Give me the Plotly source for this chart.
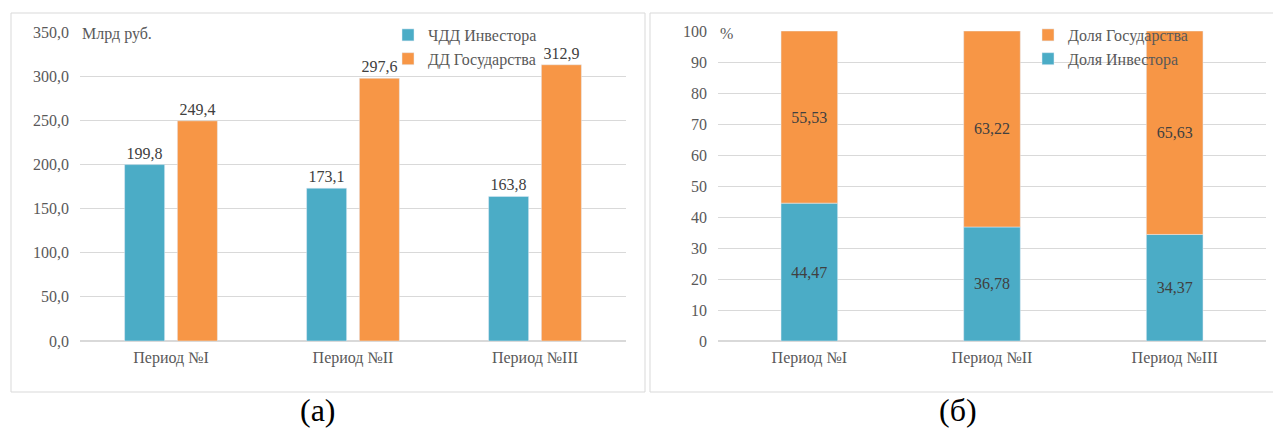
import plotly.graph_objects as go

# Categories and values
periods = ["Период №I", "Период №II", "Период №III"]
npv_investor = [199.8, 173.1, 163.8]      # ЧДД Инвестора, млрд руб.
income_state = [249.4, 297.6, 312.9]      # ДД Государства, млрд руб.
share_investor = [44.47, 36.78, 34.37]    # Доля Инвестора, %
share_state = [55.53, 63.22, 65.63]       # Доля Государства, %

left_ticks = [0, 50, 100, 150, 200, 250, 300, 350]
right_ticks = [0, 10, 20, 30, 40, 50, 60, 70, 80, 90, 100]

BLUE = "#4BACC6"
ORANGE = "#F79646"
GRID = "#D9D9D9"
TXT = "#595959"
LBL = "#404040"
FONT = "Liberation Serif"
W, H = 1273, 430

fig = go.Figure()

# (а) grouped bars
fig.add_bar(x=periods, y=npv_investor, name="ЧДД Инвестора", marker_color=BLUE,
            width=0.22, offset=-0.255, xaxis="x", yaxis="y", legend="legend",
            texttemplate="%{y:.1f}", textposition="outside", cliponaxis=False,
            textfont=dict(family=FONT, size=16, color=LBL))
fig.add_bar(x=periods, y=income_state, name="ДД Государства", marker_color=ORANGE,
            width=0.22, offset=0.035, xaxis="x", yaxis="y", legend="legend",
            texttemplate="%{y:.1f}", textposition="outside", cliponaxis=False,
            textfont=dict(family=FONT, size=16, color=LBL))

# (б) stacked shares
fig.add_bar(x=periods, y=share_investor, name="Доля Инвестора", marker_color=BLUE,
            width=0.31, offset=-0.155, xaxis="x2", yaxis="y2", legend="legend2",
            texttemplate="%{y:.2f}", textposition="inside", insidetextanchor="middle",
            textfont=dict(family=FONT, size=16, color=LBL), legendrank=2)
fig.add_bar(x=periods, y=share_state, base=share_investor, name="Доля Государства",
            marker_color=ORANGE, width=0.31, offset=-0.155, xaxis="x2", yaxis="y2",
            legend="legend2", texttemplate="%{y:.2f}", textposition="inside",
            insidetextanchor="middle",
            textfont=dict(family=FONT, size=16, color=LBL), legendrank=1)

def px(v):
    return v / W

def py(v):
    return 1 - v / H

axis_font = dict(family=FONT, size=16, color=TXT)

fig.update_layout(
    width=W, height=H,
    margin=dict(l=0, r=0, t=0, b=0, autoexpand=False),
    paper_bgcolor="white", plot_bgcolor="white",
    separators=", ",
    barmode="group",
    font=dict(family=FONT, size=16, color=TXT),
    xaxis=dict(domain=[px(80), px(626)], anchor="y", showgrid=False, automargin=False,
               tickfont=axis_font, ticks="", showline=False, ticklabelstandoff=5),
    yaxis=dict(domain=[py(341), py(32)], range=[0, 350], tickvals=left_ticks,
               tickformat=".1f", gridcolor=GRID, gridwidth=1, zeroline=True,
               zerolinecolor=GRID, tickfont=axis_font, ticklabelstandoff=10,
               automargin=False),
    xaxis2=dict(domain=[px(718), px(1266)], anchor="y2", showgrid=False, automargin=False,
                tickfont=axis_font, ticks="", showline=False, ticklabelstandoff=5),
    yaxis2=dict(domain=[py(341), py(31)], range=[0, 100], tickvals=right_ticks,
                gridcolor=GRID, gridwidth=1, zeroline=True, zerolinecolor=GRID,
                tickfont=axis_font, ticklabelstandoff=10, anchor="x2",
                automargin=False),
    legend=dict(x=px(388), y=py(18), xanchor="left", yanchor="top",
                bgcolor="rgba(0,0,0,0)", font=dict(family=FONT, size=16, color=TXT),
                traceorder="normal", itemwidth=30),
    legend2=dict(x=px(1028), y=py(18), xanchor="left", yanchor="top",
                 bgcolor="rgba(0,0,0,0)", font=dict(family=FONT, size=16, color=TXT),
                 traceorder="normal", itemwidth=30),
    shapes=[
        dict(type="rect", xref="paper", yref="paper", x0=px(11), x1=px(645),
             y0=py(392), y1=py(13), line=dict(color=GRID, width=1), layer="below"),
        dict(type="rect", xref="paper", yref="paper", x0=px(650), x1=px(1280),
             y0=py(392), y1=py(13), line=dict(color=GRID, width=1), layer="below"),
    ],
    annotations=[
        dict(text="Млрд руб.", xref="paper", yref="paper", x=px(80), y=py(34),
             xanchor="left", yanchor="middle", showarrow=False,
             font=dict(family=FONT, size=16, color=TXT)),
        dict(text="%", xref="paper", yref="paper", x=px(718), y=py(33),
             xanchor="left", yanchor="middle", showarrow=False,
             font=dict(family=FONT, size=16, color=TXT)),
        dict(text="(а)", xref="paper", yref="paper", x=px(318), y=py(410),
             xanchor="center", yanchor="middle", showarrow=False,
             font=dict(family=FONT, size=32, color="black")),
        dict(text="(б)", xref="paper", yref="paper", x=px(958), y=py(410),
             xanchor="center", yanchor="middle", showarrow=False,
             font=dict(family=FONT, size=32, color="black")),
    ],
)

fig.write_html("out.html")
